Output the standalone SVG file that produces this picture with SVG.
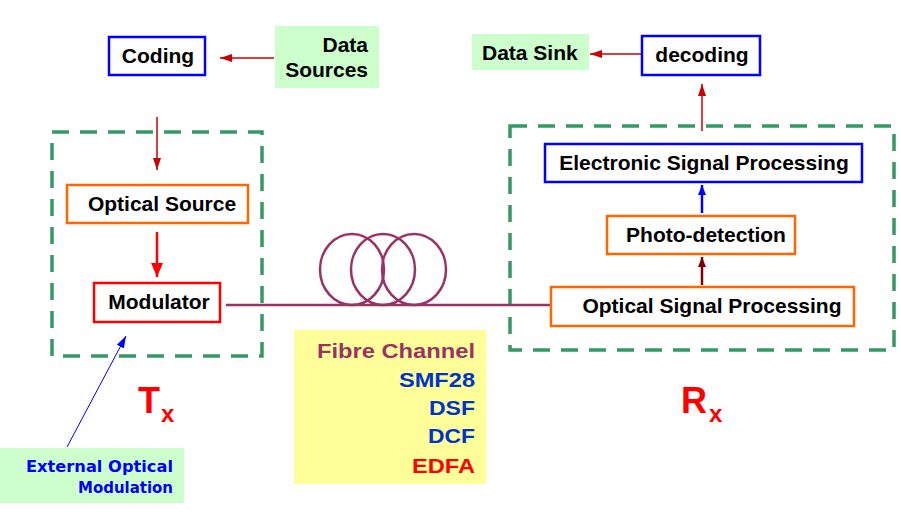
<svg xmlns="http://www.w3.org/2000/svg" width="901" height="521" viewBox="0 0 901 521">
<style>
text{font-family:"Liberation Sans",Arial,sans-serif;font-weight:bold;}
.lbl{font-size:21px;fill:#000;}
.box{fill:#fff;stroke-width:2.5;}
.blue{stroke:#0000ff;}
.orange{stroke:#ff6600;}
.red{stroke:#ff0000;}
.green{fill:#ccffcc;}
.dash{fill:none;stroke:#339966;stroke-width:3.5;stroke-dasharray:17 11;}
.fc{font-size:21px;text-anchor:end;}
.comic{font-family:"Comic Sans MS","DejaVu Sans",sans-serif;font-size:16px;fill:#0000ff;text-anchor:end;}
</style>
<defs>
<marker id="ahR" viewBox="0 0 12 8" refX="12" refY="4" markerWidth="12" markerHeight="8" orient="auto" markerUnits="userSpaceOnUse"><path d="M0,0L12,4L0,8z" fill="#cc0000"/></marker>
<marker id="ahRB" viewBox="0 0 14 12" refX="14" refY="6" markerWidth="14" markerHeight="12" orient="auto" markerUnits="userSpaceOnUse"><path d="M0,0L14,6L0,12z" fill="#ff0000"/></marker>
<marker id="ahB" viewBox="0 0 10 8" refX="10" refY="4" markerWidth="10" markerHeight="8" orient="auto" markerUnits="userSpaceOnUse"><path d="M0,0L10,4L0,8z" fill="#0000ff"/></marker>
<marker id="ahD" viewBox="0 0 10 8" refX="10" refY="4" markerWidth="10" markerHeight="8" orient="auto" markerUnits="userSpaceOnUse"><path d="M0,0L10,4L0,8z" fill="#800000"/></marker>
<marker id="ahT" viewBox="0 0 12 8" refX="12" refY="4" markerWidth="12" markerHeight="8" orient="auto" markerUnits="userSpaceOnUse"><path d="M0,0L12,4L0,8z" fill="#0000ff"/></marker>
</defs>
<rect width="901" height="521" fill="#fff"/>

<g id="tx-frame"><rect class="dash" x="52" y="132" width="210" height="224"/></g>
<g id="rx-frame"><rect class="dash" x="510" y="126" width="384" height="224"/></g>

<g id="connectors">
<line x1="274" y1="58" x2="220" y2="58" stroke="#cc0000" stroke-width="1.5" marker-end="url(#ahR)"/>
<line x1="157" y1="117" x2="157" y2="170" stroke="#cc0000" stroke-width="1.5" marker-end="url(#ahR)"/>
<line x1="157" y1="232" x2="157" y2="277" stroke="#ff0000" stroke-width="2.5" marker-end="url(#ahRB)"/>
<line x1="643" y1="54" x2="590" y2="54" stroke="#cc0000" stroke-width="1.5" marker-end="url(#ahR)"/>
<line x1="702" y1="131" x2="702" y2="84" stroke="#cc0000" stroke-width="1.5" marker-end="url(#ahR)"/>
<line x1="702" y1="213" x2="702" y2="185" stroke="#0000ff" stroke-width="2.5" marker-end="url(#ahB)"/>
<line x1="702" y1="285" x2="702" y2="257" stroke="#800000" stroke-width="2.5" marker-end="url(#ahD)"/>
<line x1="67" y1="447" x2="126" y2="336" stroke="#0000ff" stroke-width="1" marker-end="url(#ahT)"/>
<g id="fibre" fill="none" stroke="#993366" stroke-width="2.5">
<line x1="226" y1="305" x2="550" y2="305"/>
<ellipse cx="352" cy="269.5" rx="32" ry="35.5"/>
<ellipse cx="383" cy="269.5" rx="32" ry="35.5"/>
<ellipse cx="414" cy="269.5" rx="32" ry="35.5"/>
</g>
</g>

<g id="data-sources"><rect class="green" x="275" y="26" width="104" height="62"/>
<text class="lbl" x="368" y="52" text-anchor="end">Data</text>
<text class="lbl" x="368" y="77" text-anchor="end">Sources</text></g>
<g id="coding"><rect class="box blue" x="109" y="37" width="96" height="38"/>
<text class="lbl" x="158" y="63" text-anchor="middle">Coding</text></g>
<g id="optical-source"><rect class="box orange" x="67" y="185" width="181" height="38"/>
<text class="lbl" x="162" y="211" text-anchor="middle">Optical Source</text></g>
<g id="modulator"><rect class="box red" x="94" y="283" width="126" height="39"/>
<text class="lbl" x="159" y="309" text-anchor="middle">Modulator</text></g>

<g id="data-sink"><rect class="green" x="472" y="34" width="117" height="36"/>
<text class="lbl" x="482" y="60">Data Sink</text></g>
<g id="decoding"><rect class="box blue" x="642" y="36" width="118" height="39"/>
<text class="lbl" x="702" y="62" text-anchor="middle">decoding</text></g>
<g id="esp"><rect class="box blue" x="545" y="144" width="317" height="38"/>
<text class="lbl" x="704" y="170" text-anchor="middle">Electronic Signal Processing</text></g>
<g id="photo-detection"><rect class="box orange" x="607" y="216" width="188" height="38"/>
<text class="lbl" x="706" y="242" text-anchor="middle">Photo-detection</text></g>
<g id="osp"><rect class="box orange" x="551" y="287" width="303" height="39"/>
<text class="lbl" x="712" y="313" text-anchor="middle">Optical Signal Processing</text></g>

<g id="fibre-channel"><rect x="294" y="330" width="192" height="154" fill="#ffff99"/>
<text class="fc" x="475" y="358" fill="#993366" textLength="158" lengthAdjust="spacingAndGlyphs">Fibre Channel</text>
<text class="fc" x="475" y="387" fill="#0033cc" textLength="76" lengthAdjust="spacingAndGlyphs">SMF28</text>
<text class="fc" x="475" y="415" fill="#0033cc" textLength="46" lengthAdjust="spacingAndGlyphs">DSF</text>
<text class="fc" x="475" y="443" fill="#0033cc" textLength="47" lengthAdjust="spacingAndGlyphs">DCF</text>
<text class="fc" x="475" y="473" fill="#ff0000" textLength="63" lengthAdjust="spacingAndGlyphs">EDFA</text></g>

<g id="tx-label"><text x="138" y="413" font-size="36" fill="#ff0000">T</text><text x="161" y="422" font-size="24" fill="#ff0000">x</text></g>
<g id="rx-label"><text x="681" y="413" font-size="36" fill="#ff0000">R</text><text x="709" y="422" font-size="24" fill="#ff0000">x</text></g>

<g id="external-modulation"><rect class="green" x="0" y="448" width="184" height="55"/>
<text class="comic" x="173" y="472" textLength="147" lengthAdjust="spacingAndGlyphs">External Optical</text>
<text class="comic" x="173" y="493" textLength="95" lengthAdjust="spacingAndGlyphs">Modulation</text></g>
</svg>
